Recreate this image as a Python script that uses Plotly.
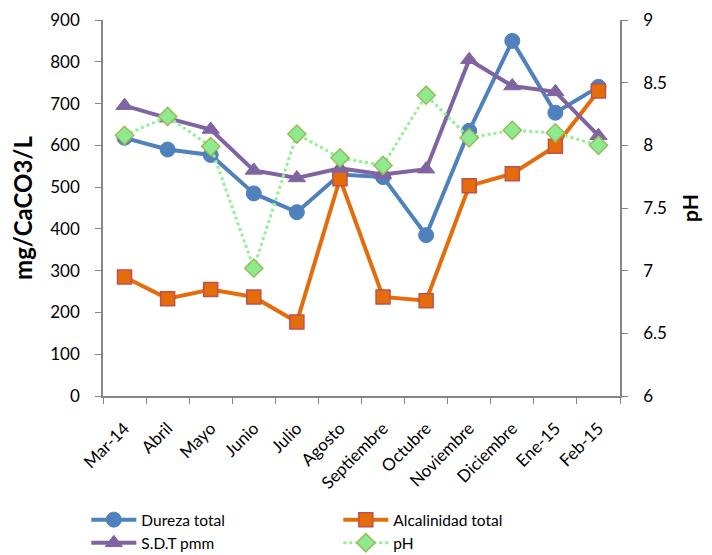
import plotly.graph_objects as go

categories = ["Mar-14", "Abril", "Mayo", "Junio", "Julio", "Agosto", "Septiembre",
              "Octubre", "Noviembre", "Diciembre", "Ene-15", "Feb-15"]
dureza_total = [618, 590, 577, 485, 440, 530, 524, 385, 635, 850, 678, 740]
alcalinidad_total = [285, 233, 255, 237, 177, 520, 237, 228, 503, 532, 598, 730]
sdt_pmm = [695, 665, 638, 540, 522, 545, 530, 543, 805, 742, 728, 623]
ph = [8.08, 8.23, 7.99, 7.02, 8.09, 7.90, 7.84, 8.40, 8.06, 8.12, 8.10, 8.00]

FONT = "Lato, 'Liberation Sans', sans-serif"

fig = go.Figure()
fig.add_trace(go.Scatter(
    x=categories, y=dureza_total, name="Dureza total", mode="lines+markers",
    line=dict(color="#4F81BD", width=4),
    marker=dict(symbol="circle", size=15, color="#4F81BD", line=dict(color="#4F81BD", width=1))))
fig.add_trace(go.Scatter(
    x=categories, y=alcalinidad_total, name="Alcalinidad total", mode="lines+markers",
    line=dict(color="#E46C0A", width=4),
    marker=dict(symbol="square", size=14, color="#E46C0A", line=dict(color="#C0504D", width=1.5))))
fig.add_trace(go.Scatter(
    x=categories, y=sdt_pmm, name="S.D.T pmm", mode="lines+markers",
    line=dict(color="#8064A2", width=4),
    marker=dict(symbol="triangle-up", size=15, color="#8064A2", line=dict(color="#8064A2", width=1))))
fig.add_trace(go.Scatter(
    x=categories, y=ph, name="pH", mode="lines+markers", yaxis="y2",
    line=dict(color="#92F192", width=3, dash="dot"),
    marker=dict(symbol="diamond", size=14, color="#8EEA8E", line=dict(color="#9BBB59", width=1.5))))

fig.update_layout(
    width=712, height=555,
    margin=dict(l=95, r=100, t=12, b=167, autoexpand=False),
    paper_bgcolor="white", plot_bgcolor="white",
    font=dict(family=FONT, size=16, color="black"),
    showlegend=True,
    legend=dict(orientation="h", xref="container", yref="container",
                x=0.11, xanchor="left", y=0.108, yanchor="top",
                entrywidth=192, entrywidthmode="pixels", traceorder="normal",
                font=dict(size=15.5), tracegroupgap=0, itemwidth=45,
                bgcolor="rgba(0,0,0,0)"),
    xaxis=dict(type="category", range=[-0.5, 11.5], showline=True, linecolor="#868686",
               linewidth=1.5, ticks="outside", ticklen=6, tickcolor="#868686",
               tickson="boundaries", tickangle=-45, showgrid=False, ticklabelstandoff=14,
               tickfont=dict(size=17), zeroline=False, automargin=False),
    yaxis=dict(range=[0, 900], dtick=100, showline=True, linecolor="#868686", linewidth=1.5,
               ticks="outside", ticklen=6, tickcolor="#868686", showgrid=False,
               ticklabelstandoff=12,
               zeroline=False, tickfont=dict(size=17), automargin=False,
               title=dict(text="<b>mg/CaCO3/L</b>", font=dict(size=24), standoff=12)),
    yaxis2=dict(range=[6, 9], dtick=0.5, overlaying="y", side="right", showline=True,
                linecolor="#868686", linewidth=1.5, ticks="outside", ticklen=6,
                tickcolor="#868686", showgrid=False, zeroline=False, tickfont=dict(size=17),
                ticklabelstandoff=12, automargin=False,
                title=dict(text="<b>pH</b>", font=dict(size=21), standoff=17)),
)

fig.write_html("out.html")
